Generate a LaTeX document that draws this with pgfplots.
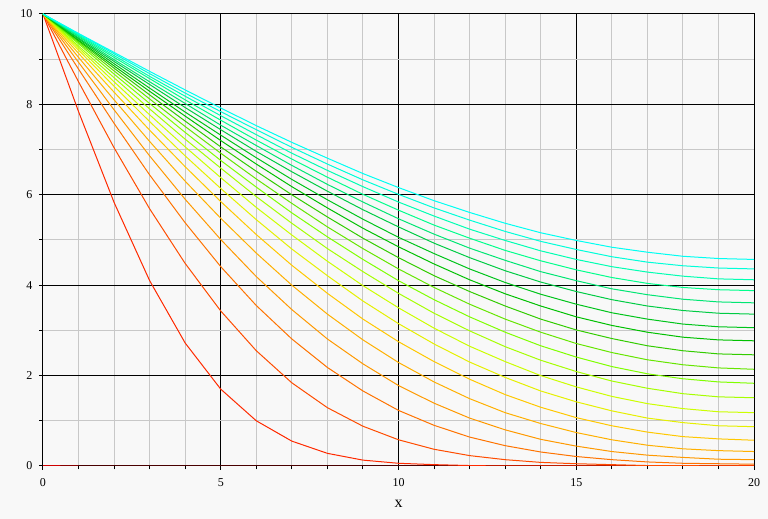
\documentclass[border=0pt]{standalone}
\usepackage{fontspec}
\setmainfont{Liberation Serif}
\usepackage{pgfplots}
\pgfplotsset{compat=1.18}
\usepackage{pgfplotstable}

\definecolor{bg}{HTML}{F8F8F8}
\definecolor{mgrid}{HTML}{C8C8C8}
\definecolor{c0}{HTML}{D00000}
\definecolor{c1}{HTML}{FF2A00}
\definecolor{c2}{HTML}{FF4C00}
\definecolor{c3}{HTML}{FF7300}
\definecolor{c4}{HTML}{FF9900}
\definecolor{c5}{HTML}{FFB000}
\definecolor{c6}{HTML}{FFC800}
\definecolor{c7}{HTML}{E6F000}
\definecolor{c8}{HTML}{CCFF00}
\definecolor{c9}{HTML}{A6FF00}
\definecolor{c10}{HTML}{80FF00}
\definecolor{c11}{HTML}{66E600}
\definecolor{c12}{HTML}{33CC00}
\definecolor{c13}{HTML}{00C000}
\definecolor{c14}{HTML}{00C41A}
\definecolor{c15}{HTML}{00CC44}
\definecolor{c16}{HTML}{00E673}
\definecolor{c17}{HTML}{00FF8C}
\definecolor{c18}{HTML}{00FFB3}
\definecolor{c19}{HTML}{00FFD9}
\definecolor{c20}{HTML}{00FFF2}

\pgfplotstableread{
x  k0 k1   k2   k3   k4   k5   k6   k7   k8   k9   k10  k11  k12  k13  k14  k15  k16  k17  k18  k19  k20
0  0  10   10   10   10   10   10   10   10   10   10   10   10   10   10   10   10   10   10   10   10
1  0  7.84 8.50 8.78 8.93 9.04 9.13 9.20 9.25 9.29 9.34 9.37 9.40 9.42 9.45 9.47 9.50 9.52 9.54 9.56 9.57
2  0  5.83 7.04 7.58 7.88 8.10 8.27 8.40 8.50 8.59 8.67 8.74 8.80 8.85 8.90 8.95 8.99 9.04 9.08 9.12 9.15
3  0  4.10 5.69 6.44 6.86 7.18 7.43 7.62 7.77 7.90 8.02 8.12 8.21 8.29 8.36 8.44 8.50 8.57 8.62 8.68 8.73
4  0  2.72 4.48 5.38 5.90 6.30 6.62 6.86 7.06 7.23 7.38 7.51 7.63 7.74 7.83 7.93 8.02 8.10 8.18 8.25 8.32
5  0  1.70 3.43 4.41 5.01 5.48 5.85 6.14 6.38 6.59 6.76 6.92 7.06 7.20 7.32 7.44 7.54 7.65 7.75 7.84 7.92
6  0  1.00 2.55 3.55 4.19 4.71 5.12 5.45 5.72 5.96 6.17 6.35 6.52 6.68 6.82 6.96 7.09 7.21 7.33 7.44 7.53
7  0  0.55 1.84 2.81 3.46 4.00 4.44 4.80 5.11 5.37 5.60 5.81 6.00 6.18 6.34 6.51 6.65 6.79 6.92 7.05 7.16
8  0  0.28 1.29 2.18 2.81 3.36 3.82 4.21 4.53 4.81 5.07 5.29 5.51 5.71 5.89 6.08 6.23 6.39 6.54 6.68 6.81
9  0  0.13 0.88 1.66 2.26 2.79 3.25 3.65 3.99 4.30 4.57 4.81 5.04 5.26 5.46 5.67 5.84 6.01 6.18 6.33 6.47
10 0  0.06 0.58 1.23 1.78 2.29 2.75 3.15 3.50 3.82 4.10 4.36 4.61 4.85 5.06 5.29 5.47 5.66 5.84 6.01 6.16
11 0  0.03 0.37 0.90 1.39 1.86 2.31 2.70 3.05 3.38 3.68 3.95 4.21 4.47 4.70 4.93 5.13 5.33 5.53 5.71 5.87
12 0  0.01 0.23 0.64 1.06 1.49 1.92 2.30 2.65 2.99 3.30 3.58 3.86 4.12 4.36 4.61 4.82 5.04 5.24 5.44 5.61
13 0  0.00 0.14 0.45 0.80 1.18 1.58 1.96 2.31 2.64 2.96 3.25 3.54 3.81 4.06 4.32 4.55 4.77 4.99 5.19 5.37
14 0  0.00 0.08 0.31 0.59 0.94 1.30 1.66 2.00 2.34 2.66 2.96 3.25 3.54 3.80 4.07 4.30 4.54 4.76 4.97 5.16
15 0  0.00 0.05 0.21 0.44 0.74 1.07 1.42 1.75 2.09 2.41 2.71 3.01 3.30 3.58 3.86 4.10 4.34 4.57 4.79 4.99
16 0  0.00 0.03 0.14 0.32 0.58 0.89 1.22 1.54 1.88 2.20 2.51 2.82 3.11 3.39 3.68 3.92 4.17 4.41 4.63 4.84
17 0  0.00 0.01 0.09 0.24 0.46 0.75 1.06 1.38 1.72 2.04 2.35 2.66 2.96 3.25 3.54 3.79 4.04 4.29 4.51 4.73
18 0  0.00 0.01 0.06 0.19 0.38 0.65 0.96 1.27 1.60 1.93 2.24 2.55 2.85 3.14 3.44 3.69 3.95 4.20 4.43 4.64
19 0  0.00 0.00 0.05 0.15 0.34 0.60 0.89 1.20 1.53 1.86 2.17 2.48 2.79 3.08 3.38 3.63 3.90 4.14 4.38 4.59
20 0  0.00 0.00 0.04 0.14 0.32 0.57 0.87 1.18 1.51 1.83 2.14 2.46 2.77 3.06 3.36 3.61 3.88 4.12 4.36 4.57
}\curves

\begin{document}
\begin{tikzpicture}
\fill[bg] (0,0) rectangle (768bp,519bp);
\useasboundingbox (0,0) rectangle (768bp,519bp);
\begin{axis}[
  at={(43bp,53bp)}, anchor=south west,
  scale only axis, width=711bp, height=452bp,
  xmin=0, xmax=20, ymin=0, ymax=10,
  xtick={0,5,...,20}, ytick={0,2,...,10},
  minor x tick num=4, minor y tick num=1,
  grid=both,
  major grid style={black, line width=1bp},
  minor grid style={mgrid, line width=1bp},
  axis line style={black, line width=1bp},
  tick style={black, line width=1bp},
  tick align=outside, tick pos=left,
  major tick length=4bp, minor tick length=3.5bp,
  ticklabel style={font=\fontsize{12bp}{14bp}\selectfont},
  /pgf/number format/assume math mode=true,
  xticklabel style={yshift=-5bp},
  yticklabel style={xshift=-3bp},
  xlabel={x},
  xlabel style={at={(axis description cs:0.5,0)}, anchor=base, yshift=-41.3bp, font=\fontsize{16bp}{18bp}\selectfont},
  axis background/.style={fill=bg},
]
\pgfplotsinvokeforeach{0,...,20}{
  \addplot[color=c#1, line width=1bp] table[x=x, y=k#1] {\curves};
}
\end{axis}
\end{tikzpicture}
\end{document}
